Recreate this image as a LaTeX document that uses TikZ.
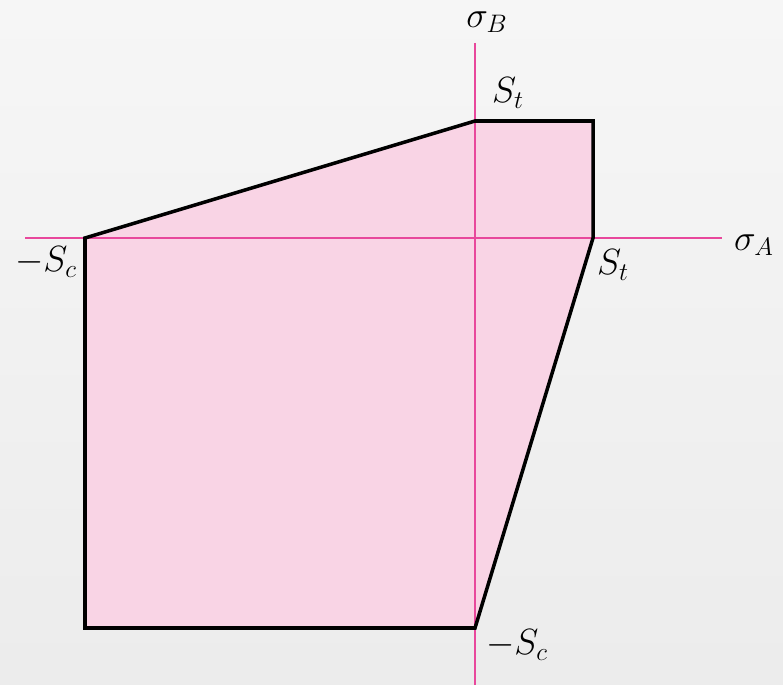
\documentclass[tikz,border=0pt]{standalone}
\begin{document}
\definecolor{axispink}{HTML}{E8489C}
\definecolor{regionfill}{HTML}{F9D4E5}
\begin{tikzpicture}[x=0.02cm,y=-0.02cm,lbl/.style={font=\fontsize{20}{22}\selectfont}]
\shade[top color=gray!7,bottom color=gray!15] (0,0) rectangle (783,685);
\useasboundingbox (0,0) rectangle (783,685);

\coordinate (ctop) at (475,121);
\coordinate (tr) at (593,121);
\coordinate (rt) at (593,238);
\coordinate (cbot) at (475,628);
\coordinate (bl) at (85,628);
\coordinate (lt) at (85,238);

\fill[regionfill] (lt) -- (ctop) -- (tr) -- (rt) -- (cbot) -- (bl) -- cycle;
\draw[axispink,line width=1.1pt] (25,238) coordinate (xa) -- (722,238) coordinate (xb);
\draw[axispink,line width=1.1pt] (475,43) coordinate (ya) -- (475,685) coordinate (yb);
\draw[line width=2pt,line join=miter] (lt) -- (ctop) -- (tr) -- (rt) -- (cbot) -- (bl) -- cycle;

\node[lbl] (sb) at (487,22) {$\sigma_B$};
\node[lbl] (st1) at (508,93) {$S_t$};
\node[lbl] (sc1) at (46,262) {$-S_c$};
\node[lbl] (st2) at (613,265) {$S_t$};
\node[lbl] (sa) at (754,245) {$\sigma_A$};
\node[lbl] (sc2) at (517,645) {$-S_c$};
\end{tikzpicture}
\end{document}
